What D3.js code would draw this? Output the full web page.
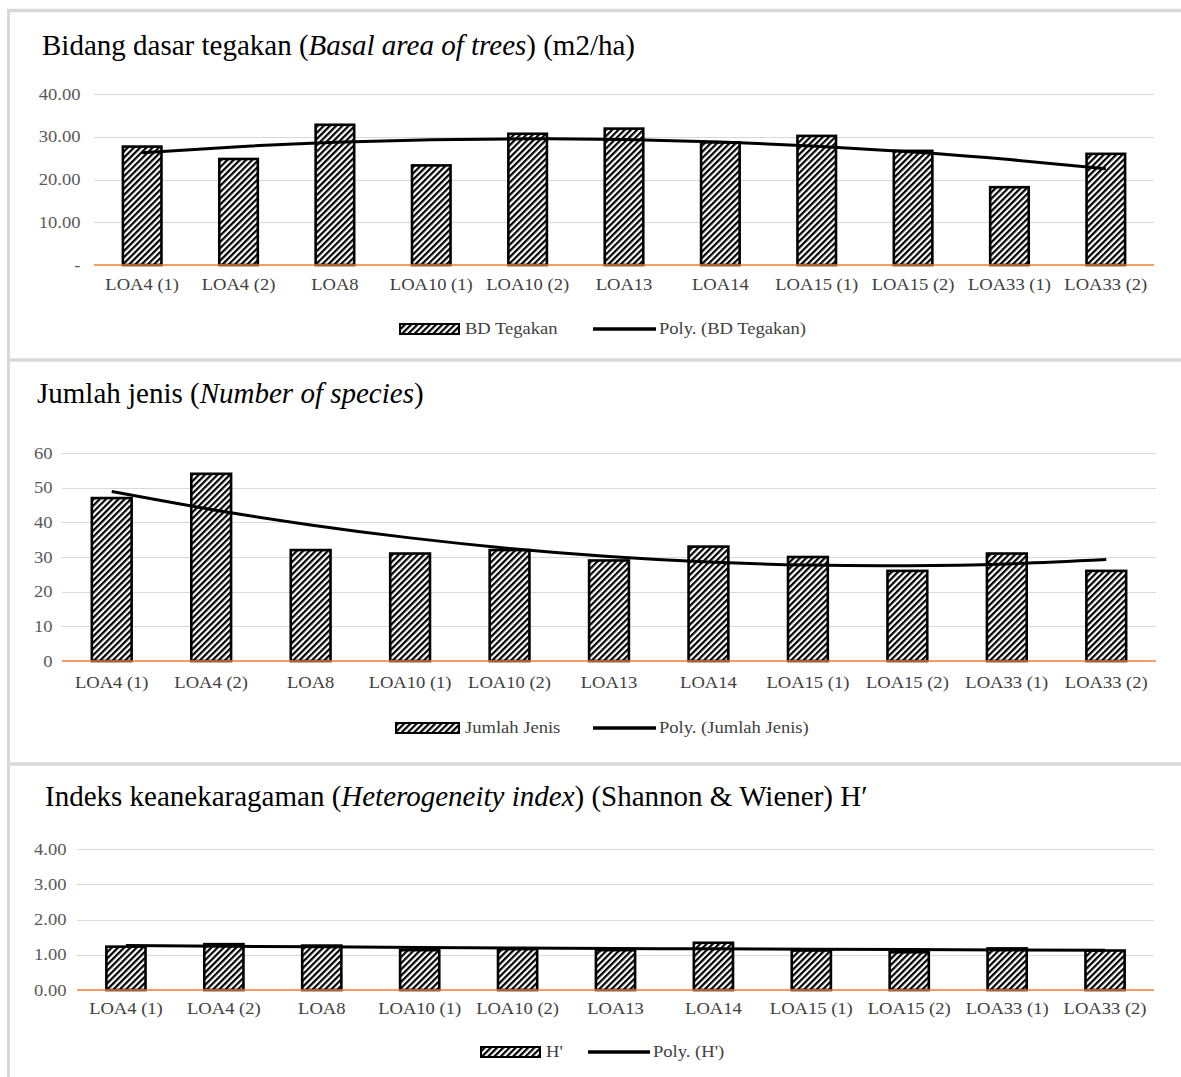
<!DOCTYPE html>
<html>
<head>
<meta charset="utf-8">
<script src="https://cdn.jsdelivr.net/npm/d3@7"></script>
<style>
body { margin: 0; background: #fff; }
text { font-family: "Liberation Serif", "Times New Roman", serif; }
</style>
</head>
<body>
<div id="chart"></div>
<script>
var width = 1181,
    height = 1077;

// data
var categories = ['LOA4 (1)', 'LOA4 (2)', 'LOA8', 'LOA10 (1)', 'LOA10 (2)', 'LOA13',
                  'LOA14', 'LOA15 (1)', 'LOA15 (2)', 'LOA33 (1)', 'LOA33 (2)'];
var bdTegakan = [27.7, 24.8, 32.8, 23.3, 30.7, 31.9, 28.7, 30.2, 26.7, 18.2, 26.0];
var jumlahJenis = [47, 54, 32, 31, 32, 29, 33, 30, 26, 31, 26];
var hIndex = [1.23, 1.30, 1.26, 1.13, 1.16, 1.13, 1.34, 1.12, 1.07, 1.18, 1.12];

var bdTicks = [0, 10, 20, 30, 40];
var jenisTicks = [0, 10, 20, 30, 40, 50, 60];
var hTicks = [0, 1, 2, 3, 4];

var svg = d3.select('#chart').append('svg')
    .attr('width', width)
    .attr('height', height);

// wide upward diagonal hatch
svg.append('defs').append('pattern')
    .attr('id', 'hatch')
    .attr('patternUnits', 'userSpaceOnUse')
    .attr('width', 4.4).attr('height', 4.4)
    .attr('patternTransform', 'rotate(45)')
  .call(function(p) {
      p.append('rect').attr('width', 4.4).attr('height', 4.4).attr('fill', '#fff');
      p.append('rect').attr('width', 2.2).attr('height', 4.4).attr('fill', '#000');
  });

// panel frames
var frame = '#d9d9d9';
svg.append('line').attr('x1', 8.5).attr('x2', 8.5).attr('y1', 9).attr('y2', height)
    .attr('stroke', frame).attr('stroke-width', 3);
[10.5, 360, 764].forEach(function(y) {
    svg.append('line').attr('x1', 7).attr('x2', width).attr('y1', y).attr('y2', y)
        .attr('stroke', frame).attr('stroke-width', 3.5);
});

drawPanel({
    values: bdTegakan, ticks: bdTicks,
    fmt: function(d) { return d === 0 ? '-' : d.toFixed(2); },
    title: [['Bidang dasar tegakan (', false], ['Basal area of trees', true], [') (m2/ha)', false]],
    titleX: 42, titleY: 55,
    x0: 94, x1: 1154, y0: 265, y1: 94, labelX: 75, catY: 284,
    legY: 329, legend: ['BD Tegakan', 'Poly. (BD Tegakan)'], legX: [400, 465, 593, 659]
});

drawPanel({
    values: jumlahJenis, ticks: jenisTicks,
    fmt: function(d) { return '' + d; },
    title: [['Jumlah jenis (', false], ['Number of species', true], [')', false]],
    titleX: 37, titleY: 403,
    x0: 62, x1: 1156, y0: 661, y1: 453, labelX: 47, catY: 682,
    legY: 728, legend: ['Jumlah Jenis', 'Poly. (Jumlah Jenis)'], legX: [396, 465, 593, 659]
});

drawPanel({
    values: hIndex, ticks: hTicks,
    fmt: function(d) { return d.toFixed(2); },
    title: [['Indeks keanekaragaman (', false], ['Heterogeneity index', true],
            [') (Shannon & Wiener) H\u2032', false]],
    titleX: 45, titleY: 806,
    x0: 77, x1: 1154, y0: 990, y1: 849, labelX: 61, catY: 1008,
    legY: 1052, legend: ["H'", "Poly. (H')"], legX: [481, 546, 588, 653]
});


function drawPanel(c) {
    var g = svg.append('g');
    var sx = 1.16;

    var x = d3.scaleBand().domain(categories).range([c.x0, c.x1]);
    var y = d3.scaleLinear()
        .domain([0, c.ticks[c.ticks.length - 1]])
        .range([c.y0, c.y1]);

    g.append('text')
        .attr('x', c.titleX).attr('y', c.titleY)
        .attr('font-size', 29).attr('fill', '#000')
        .selectAll('tspan').data(c.title).enter()
      .append('tspan')
        .attr('font-style', function(d) { return d[1] ? 'italic' : 'normal'; })
        .text(function(d) { return d[0]; });

    // gridlines
    g.selectAll('.grid').data(c.ticks.slice(1)).enter()
      .append('line')
        .attr('x1', c.x0).attr('x2', c.x1)
        .attr('y1', function(d) { return Math.round(y(d)) + 0.5; })
        .attr('y2', function(d) { return Math.round(y(d)) + 0.5; })
        .attr('stroke', '#d9d9d9').attr('stroke-width', 1.2);

    // value labels
    var ya = g.append('g')
        .attr('transform', 'translate(' + (c.labelX + 9) + ',0)')
        .call(d3.axisLeft(y).tickValues(c.ticks).tickFormat(c.fmt).tickSize(0));
    ya.select('.domain').remove();
    ya.selectAll('text')
        .attr('font-size', 16).attr('fill', '#595959')
        .attr('transform', 'scale(' + sx + ',1)');

    // bars
    var bw = x.bandwidth() * 0.4;
    g.selectAll('.bar').data(c.values).enter()
      .append('rect')
        .attr('x', function(d, i) { return x(categories[i]) + (x.bandwidth() - bw) / 2; })
        .attr('y', function(d) { return y(d); })
        .attr('width', bw)
        .attr('height', function(d) { return y(0) - y(d); })
        .attr('fill', 'url(#hatch)')
        .attr('stroke', '#000').attr('stroke-width', 2.6);

    // category axis
    g.append('line')
        .attr('x1', c.x0).attr('x2', c.x1)
        .attr('y1', y(0)).attr('y2', y(0))
        .attr('stroke', '#ed7d31').attr('stroke-width', 1.3);
    var xa = g.append('g')
        .attr('transform', 'translate(0,' + (c.catY - 8) + ')')
        .call(d3.axisBottom(x).tickSize(0));
    xa.select('.domain').remove();
    xa.selectAll('text')
        .attr('font-size', 16).attr('fill', '#404040')
        .attr('transform', 'scale(' + sx + ',1)');

    // polynomial (order 2) trend, as in the spreadsheet
    var trend = polyFit(c.values, 2);
    var line = d3.line()
        .x(function(d, i) { return x(categories[i]) + x.bandwidth() / 2; })
        .y(function(d) { return y(d); })
        .curve(d3.curveNatural);
    g.append('path')
        .datum(trend)
        .attr('d', line)
        .attr('fill', 'none')
        .attr('stroke', '#000').attr('stroke-width', 3);

    // legend
    var lx = c.legX;
    g.append('rect')
        .attr('x', lx[0]).attr('y', c.legY - 5)
        .attr('width', lx[1] - lx[0] - 6).attr('height', 10)
        .attr('fill', 'url(#hatch)')
        .attr('stroke', '#000').attr('stroke-width', 2);
    g.append('line')
        .attr('x1', lx[2]).attr('x2', lx[3] - 3)
        .attr('y1', c.legY).attr('y2', c.legY)
        .attr('stroke', '#000').attr('stroke-width', 3.5);
    [lx[1], lx[3]].forEach(function(px, i) {
        g.append('text')
            .attr('transform', 'translate(' + px + ',' + (c.legY + 5) + ') scale(' + sx + ',1)')
            .attr('font-size', 16).attr('fill', '#404040')
            .text(c.legend[i]);
    });
}

function polyFit(ys, order) {
    var n = ys.length, m = order + 1;
    var A = [], b = [];
    for (var r = 0; r < m; r++) {
        A.push([]);
        for (var k = 0; k < m; k++) {
            var s = 0;
            for (var i = 0; i < n; i++) s += Math.pow(i + 1, r + k);
            A[r].push(s);
        }
        var t = 0;
        for (var i = 0; i < n; i++) t += ys[i] * Math.pow(i + 1, r);
        b.push(t);
    }
    // gaussian elimination
    for (var p = 0; p < m; p++) {
        for (var r = p + 1; r < m; r++) {
            var f = A[r][p] / A[p][p];
            for (var k = p; k < m; k++) A[r][k] -= f * A[p][k];
            b[r] -= f * b[p];
        }
    }
    var coef = [];
    for (var r = m - 1; r >= 0; r--) {
        var s = b[r];
        for (var k = r + 1; k < m; k++) s -= A[r][k] * coef[k];
        coef[r] = s / A[r][r];
    }
    return ys.map(function(d, i) {
        var v = 0;
        for (var k = 0; k < m; k++) v += coef[k] * Math.pow(i + 1, k);
        return v;
    });
}
</script>
</body>
</html>
